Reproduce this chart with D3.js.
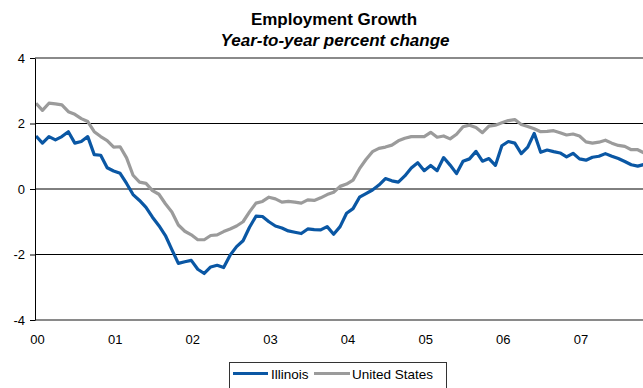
<!DOCTYPE html>
<html>
<head>
<meta charset="utf-8">
<script src="https://cdn.jsdelivr.net/npm/d3@7"></script>
<style>
  html, body { margin: 0; padding: 0; background: #fff; }
  svg { display: block; font-family: "Liberation Sans", Arial, sans-serif; }
</style>
</head>
<body>
<svg id="chart" width="643" height="388"></svg>
<script>
// Monthly year-over-year employment change (%), Jan 2000 onward
const illinois = [
  1.62, 1.40, 1.60, 1.50, 1.60, 1.75, 1.40, 1.45, 1.60, 1.05, 1.03, 0.65,
  0.55, 0.48, 0.17, -0.17, -0.35, -0.56, -0.86, -1.12, -1.42, -1.85, -2.27, -2.22,
  -2.18, -2.45, -2.58, -2.38, -2.33, -2.40, -2.02, -1.76, -1.58, -1.17, -0.83, -0.84,
  -1.00, -1.13, -1.19, -1.28, -1.32, -1.36, -1.22, -1.24, -1.25, -1.15, -1.38, -1.15,
  -0.74, -0.60, -0.25, -0.14, -0.03, 0.12, 0.32, 0.25, 0.21, 0.40, 0.64, 0.80,
  0.56, 0.72, 0.56, 0.96, 0.73, 0.47, 0.85, 0.92, 1.15, 0.85, 0.93, 0.72,
  1.32, 1.45, 1.40, 1.08, 1.28, 1.70, 1.12, 1.19, 1.14, 1.10, 0.98, 1.09,
  0.92, 0.88, 0.97, 1.00, 1.08, 1.00, 0.93, 0.84, 0.74, 0.70, 0.75
];
const unitedStates = [
  2.62, 2.40, 2.62, 2.60, 2.57, 2.36, 2.28, 2.15, 2.06, 1.75, 1.60, 1.48,
  1.28, 1.29, 0.95, 0.42, 0.21, 0.17, -0.05, -0.16, -0.45, -0.70, -1.10, -1.29,
  -1.40, -1.55, -1.55, -1.42, -1.40, -1.30, -1.22, -1.13, -1.00, -0.70, -0.43, -0.38,
  -0.25, -0.30, -0.40, -0.38, -0.40, -0.43, -0.33, -0.35, -0.27, -0.17, -0.10, 0.08,
  0.15, 0.27, 0.62, 0.90, 1.14, 1.24, 1.28, 1.34, 1.47, 1.55, 1.60, 1.60,
  1.60, 1.73, 1.58, 1.62, 1.53, 1.67, 1.90, 1.95, 1.88, 1.72, 1.92, 1.95,
  2.02, 2.09, 2.12, 1.97, 1.91, 1.84, 1.75, 1.76, 1.78, 1.72, 1.65, 1.68,
  1.62, 1.44, 1.40, 1.43, 1.49, 1.40, 1.33, 1.30, 1.20, 1.20, 1.10
];
const yearLabels = ["00", "01", "02", "03", "04", "05", "06", "07"];
const yTicks = [-4, -2, 0, 2, 4];
const seriesNames = ["Illinois", "United States"];
const seriesColors = ["#0a57a4", "#9b9b9b"];

const svg = d3.select("#chart");
const plotLeft = 35, plotRight = 643, plotTop = 58, plotBottom = 320;

const x = d3.scaleLinear().domain([0, 94]).range([36, 644.2]);
const y = d3.scaleLinear().domain([-4, 4]).range([plotBottom, plotTop]);

// Titles
svg.append("text")
  .attr("x", 334).attr("y", 24.5)
  .attr("text-anchor", "middle")
  .style("font-size", "17px").style("font-weight", "bold")
  .text("Employment Growth");
svg.append("text")
  .attr("x", 335).attr("y", 45.5)
  .attr("text-anchor", "middle")
  .style("font-size", "17px").style("font-weight", "bold").style("font-style", "italic")
  .text("Year-to-year percent change");

// Horizontal gridlines (inner ones black)
svg.append("g")
  .selectAll("line")
  .data(yTicks.filter(d => d > -4 && d < 4))
  .join("line")
  .attr("x1", plotLeft).attr("x2", plotRight)
  .attr("y1", d => y(d)).attr("y2", d => y(d))
  .attr("stroke", "#000").attr("stroke-width", 1);

// Plot-area top border
svg.append("line")
  .attr("x1", plotLeft).attr("x2", plotRight)
  .attr("y1", y(4)).attr("y2", y(4))
  .attr("stroke", "#8a8a8a").attr("stroke-width", 2);

// Series lines (United States underneath, Illinois on top)
const line = d3.line().x((d, i) => x(i)).y(d => y(d));
[unitedStates, illinois].forEach((vals, j) => {
  const k = j === 0 ? 1 : 0;
  svg.append("path")
    .datum(vals)
    .attr("fill", "none")
    .attr("stroke", seriesColors[k])
    .attr("stroke-width", 3.2)
    .attr("stroke-linejoin", "round")
    .attr("d", line);
});

// X axis (baseline of the plot area)
svg.append("line")
  .attr("x1", plotLeft).attr("x2", plotRight)
  .attr("y1", plotBottom).attr("y2", plotBottom)
  .attr("stroke", "#8a8a8a").attr("stroke-width", 2);

const xAxis = d3.axisBottom(x)
  .tickValues(yearLabels.map((_, i) => i * 12))
  .tickFormat((d, i) => yearLabels[i])
  .tickSize(0).tickPadding(15);
const gx = svg.append("g").attr("transform", `translate(1,${plotBottom})`).call(xAxis);
gx.select(".domain").remove();
gx.selectAll("text").style("font-size", "13px").style("font-family", "Liberation Sans, Arial, sans-serif").attr("fill", "#000");

// Y axis
const yAxis = d3.axisLeft(y).tickValues(yTicks).tickFormat(d => String(d))
  .tickSize(5).tickSizeOuter(0).tickPadding(5);
const gy = svg.append("g").attr("transform", `translate(${plotLeft},0)`).call(yAxis);
gy.select(".domain").attr("stroke", "#000");
gy.selectAll(".tick line").attr("stroke", "#000");
gy.selectAll("text").style("font-size", "13px").style("font-family", "Liberation Sans, Arial, sans-serif").attr("fill", "#000");

// Legend
const lg = svg.append("g");
lg.append("rect")
  .attr("x", 229.5).attr("y", 362.5).attr("width", 217).attr("height", 30)
  .attr("fill", "#fff").attr("stroke", "#333").attr("stroke-width", 1);
const legendItems = [
  { x1: 233, x2: 268, tx: 271 },
  { x1: 314, x2: 350, tx: 352 }
];
legendItems.forEach((it, k) => {
  lg.append("line")
    .attr("x1", it.x1).attr("x2", it.x2).attr("y1", 373.5).attr("y2", 373.5)
    .attr("stroke", seriesColors[k]).attr("stroke-width", 3.2);
  lg.append("text")
    .attr("x", it.tx).attr("y", 379)
    .style("font-size", "13.5px")
    .text(seriesNames[k]);
});
</script>
</body>
</html>
